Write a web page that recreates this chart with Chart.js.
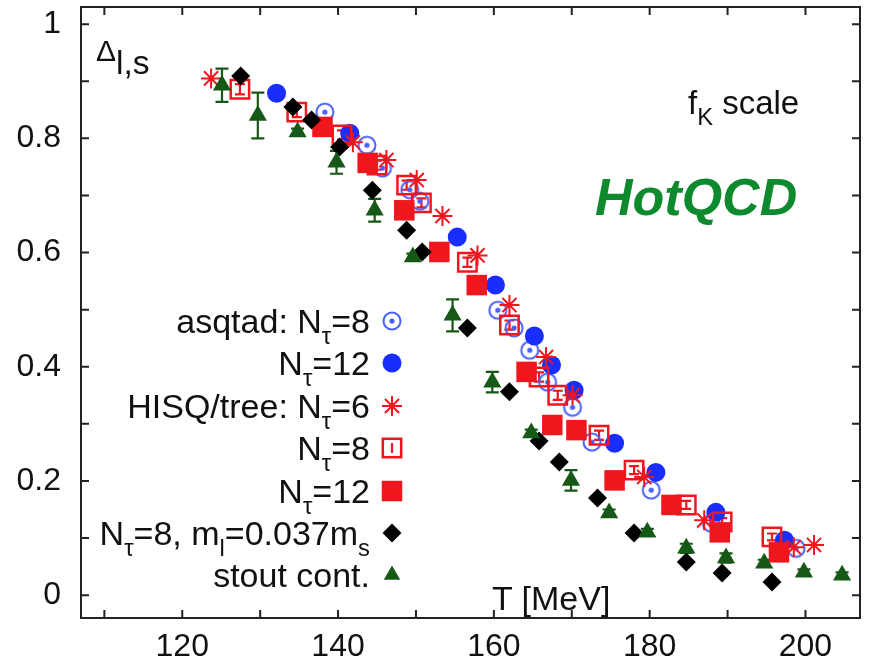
<!DOCTYPE html>
<html>
<head>
<meta charset="utf-8">
<script src="https://cdn.jsdelivr.net/npm/chart.js@4"></script>
<style>
body { margin: 0; background: #fff; }
#wrap { position: relative; width: 869px; height: 664px; font-family: 'Liberation Sans', Arial, sans-serif; color: #111; }
#wrap canvas { position: absolute; left: 0; top: 0; }
.lbl { position: absolute; white-space: nowrap; }
.leg { position: absolute; right: 499px; font-size: 34px; line-height: 34px; text-align: right; white-space: nowrap; }
sub { font-size: 0.7em; vertical-align: -0.45em; line-height: 0; }
</style>
</head>
<body>
<div id="wrap">
<canvas id="chart" width="869" height="664"></canvas>
<div class="lbl" style="left:96px;top:36px;font-size:30px;line-height:30px;">Δ<sub style="font-size:1.12em;vertical-align:-0.38em;">l,s</sub></div>
<div class="lbl" style="left:688px;top:86px;font-size:33px;line-height:33px;">f<sub style="font-size:0.72em;">K</sub> scale</div>
<div class="lbl" style="left:595px;top:171px;font-size:52px;line-height:52px;font-weight:bold;font-style:italic;color:#0e8a2e;">HotQCD</div>
<div class="lbl" style="left:492px;top:581px;font-size:34px;line-height:34px;">T [MeV]</div>
<div class="leg" style="top:304px;">asqtad: N<sub>τ</sub>=8</div>
<div class="leg" style="top:346px;">N<sub>τ</sub>=12</div>
<div class="leg" style="top:389px;">HISQ/tree: N<sub>τ</sub>=6</div>
<div class="leg" style="top:431px;">N<sub>τ</sub>=8</div>
<div class="leg" style="top:474px;">N<sub>τ</sub>=12</div>
<div class="leg" style="top:516px;">N<sub>τ</sub>=8, m<sub>l</sub>=0.037m<sub>s</sub></div>
<div class="leg" style="top:558px;">stout cont.</div>
</div>
<script>
// asqtad, N_tau = 8 (open circles with dot)
const asqtad8T = [138.3, 143.7, 145.7, 149.2, 150.5, 160.5, 162.6, 164.6, 166.9, 170.1, 172.6, 180.2, 187.9, 198.8];
const asqtad8D = [0.846, 0.788, 0.748, 0.71, 0.69, 0.499, 0.468, 0.429, 0.373, 0.329, 0.268, 0.184, 0.126, 0.082];

// asqtad, N_tau = 12
const asqtad12T = [132.1, 141.5, 155.3, 160.2, 165.2, 167.4, 170.3, 175.5, 180.8, 188.5, 197.3];
const asqtad12D = [0.879, 0.809, 0.627, 0.543, 0.454, 0.403, 0.359, 0.266, 0.215, 0.145, 0.096];

// HISQ/tree
const hisq6T = [123.7, 141.9, 146.2, 150.1, 153.4, 157.9, 162.0, 166.7, 170.1, 179.3, 187.0, 198.5, 201.1];
const hisq6D = [0.905, 0.793, 0.762, 0.727, 0.664, 0.595, 0.508, 0.417, 0.35, 0.207, 0.131, 0.084, 0.088];

const hisq8T = [127.4, 134.7, 140.5, 145.0, 148.8, 150.7, 156.6, 162.0, 165.8, 168.2, 173.5, 178.0, 184.7, 189.3, 195.7];
const hisq8D = [0.886, 0.846, 0.806, 0.753, 0.718, 0.687, 0.583, 0.473, 0.382, 0.35, 0.28, 0.219, 0.158, 0.128, 0.102];
const hisq8Err = [0.009, 0.009, 0.008, 0.008, 0.008, 0.008, 0.008, 0.008, 0.008, 0.008, 0.008, 0.007, 0.007, 0.007, 0.006];

const hisq12T = [138.0, 143.8, 148.5, 153.0, 157.8, 164.2, 167.5, 170.6, 175.5, 182.8, 189.0, 196.6];
const hisq12D = [0.82, 0.757, 0.674, 0.601, 0.543, 0.391, 0.298, 0.289, 0.201, 0.158, 0.11, 0.075];

// N_tau = 8, m_l = 0.037 m_s
const mlT = [127.5, 134.2, 136.6, 140.2, 144.4, 148.8, 150.8, 156.6, 162.0, 165.8, 168.4, 173.3, 178.0, 184.7, 189.3, 195.7];
const mlD = [0.909, 0.855, 0.832, 0.785, 0.709, 0.639, 0.601, 0.468, 0.356, 0.27, 0.233, 0.17, 0.109, 0.058, 0.039, 0.023];

// stout continuum
const stoutT = [125.1, 129.7, 134.8, 139.8, 144.7, 149.6, 154.7, 159.8, 164.8, 169.9, 174.8, 179.7, 184.7, 189.8, 194.7, 199.8, 204.7];
const stoutD = [0.893, 0.84, 0.811, 0.758, 0.674, 0.592, 0.49, 0.373, 0.284, 0.201, 0.144, 0.11, 0.082, 0.065, 0.056, 0.04, 0.035];
const stoutErr = [0.029, 0.04, 0.006, 0.02, 0.02, 0.006, 0.028, 0.018, 0.006, 0.018, 0.006, 0.006, 0.008, 0.008, 0.006, 0.005, 0.005];

// axes
const xMin = 107, xMax = 207;
const yMin = -0.04, yMax = 1.03;
const xTicks = [110, 120, 130, 140, 150, 160, 170, 180, 190, 200];
const xTickLabels = ['', '120', '', '140', '', '160', '', '180', '', '200'];
const yTicks = [0, 0.1, 0.2, 0.3, 0.4, 0.5, 0.6, 0.7, 0.8, 0.9, 1.0];
const yTickLabels = ['0', '', '0.2', '', '0.4', '', '0.6', '', '0.8', '', '1'];

const RED = 'rgb(240,22,30)';
const BLUE = 'rgb(25,45,255)';
const BLUE_LIGHT = 'rgb(70,95,255)';
const GREEN = 'rgb(22,88,22)';

function toPoints(ts, ds) {
    return ts.map((t, i) => ({ x: t, y: ds[i] }));
}

// open circle with a dot in the middle
function dottedCircle() {
    const c = document.createElement('canvas');
    c.width = 24; c.height = 24;
    const g = c.getContext('2d');
    g.strokeStyle = BLUE_LIGHT;
    g.lineWidth = 2;
    g.beginPath();
    g.arc(12, 12, 8.5, 0, Math.PI * 2);
    g.stroke();
    g.fillStyle = BLUE_LIGHT;
    g.beginPath();
    g.arc(12, 12, 2.6, 0, Math.PI * 2);
    g.fill();
    return c;
}
const dotCircle = dottedCircle();

const datasets = [
    { label: 'asqtad8', data: toPoints(asqtad8T, asqtad8D), pointStyle: dotCircle, pointRadius: 10, order: 6 },
    { label: 'asqtad12', data: toPoints(asqtad12T, asqtad12D), pointStyle: 'circle', pointRadius: 9.5,
      backgroundColor: BLUE, borderColor: BLUE, borderWidth: 0, order: 5 },
    { label: 'hisq6', data: toPoints(hisq6T, hisq6D), pointStyle: 'star', pointRadius: 10,
      borderColor: RED, backgroundColor: RED, borderWidth: 2, order: 4 },
    { label: 'hisq8', data: toPoints(hisq8T, hisq8D), errors: hisq8Err, capHalf: 5, pointStyle: 'rect', pointRadius: 13,
      borderColor: RED, backgroundColor: 'rgba(0,0,0,0)', borderWidth: 2.5, order: 3 },
    { label: 'hisq12', data: toPoints(hisq12T, hisq12D), pointStyle: 'rect', pointRadius: 14.5,
      borderColor: RED, backgroundColor: RED, borderWidth: 0, order: 2 },
    { label: 'ml', data: toPoints(mlT, mlD), pointStyle: 'rectRot', pointRadius: 9.5,
      borderColor: '#000', backgroundColor: '#000', borderWidth: 0, order: 1 },
    { label: 'stout', data: toPoints(stoutT, stoutD), errors: stoutErr, capHalf: 6.5, pointStyle: 'triangle', pointRadius: 10.5,
      borderColor: GREEN, backgroundColor: GREEN, borderWidth: 0, order: 0 }
];
datasets.forEach(d => { d.showLine = false; d.pointHoverRadius = d.pointRadius; });

const legendY = [321, 363, 406, 448, 491, 533, 575];
const legendX = 392;

const framePlugin = {
    id: 'frame',
    beforeDatasetsDraw(chart) {
        // error bars, drawn under the markers
        const ctx = chart.ctx;
        const yScale = chart.scales.y;
        chart.data.datasets.forEach((ds, i) => {
            if (!ds.errors) return;
            const meta = chart.getDatasetMeta(i);
            ctx.save();
            ctx.strokeStyle = ds.borderColor;
            ctx.lineWidth = 2.2;
            meta.data.forEach((pt, j) => {
                const e = ds.errors[j];
                const y1 = yScale.getPixelForValue(ds.data[j].y + e);
                const y2 = yScale.getPixelForValue(ds.data[j].y - e);
                ctx.beginPath();
                ctx.moveTo(pt.x, y1); ctx.lineTo(pt.x, y2);
                ctx.moveTo(pt.x - ds.capHalf, y1); ctx.lineTo(pt.x + ds.capHalf, y1);
                ctx.moveTo(pt.x - ds.capHalf, y2); ctx.lineTo(pt.x + ds.capHalf, y2);
                ctx.stroke();
            });
            ctx.restore();
        });
    },
    afterDraw(chart) {
        const ctx = chart.ctx;
        const a = chart.chartArea;
        const xs = chart.scales.x, ys = chart.scales.y;
        const tl = 8;
        ctx.save();
        ctx.strokeStyle = '#222';
        ctx.lineWidth = 2;
        ctx.strokeRect(a.left, a.top, a.right - a.left, a.bottom - a.top);
        ctx.beginPath();
        xs.ticks.forEach(t => {
            const px = xs.getPixelForValue(t.value);
            ctx.moveTo(px, a.bottom); ctx.lineTo(px, a.bottom - tl);
            ctx.moveTo(px, a.top); ctx.lineTo(px, a.top + tl);
        });
        ys.ticks.forEach(t => {
            const py = ys.getPixelForValue(t.value);
            ctx.moveTo(a.left, py); ctx.lineTo(a.left + tl, py);
            ctx.moveTo(a.right, py); ctx.lineTo(a.right - tl, py);
        });
        ctx.stroke();

        // legend markers
        chart.data.datasets.forEach((ds, i) => {
            const y = legendY[i];
            ctx.fillStyle = ds.backgroundColor || BLUE_LIGHT;
            ctx.strokeStyle = ds.borderColor || BLUE_LIGHT;
            ctx.lineWidth = ds.borderWidth || 2;
            Chart.helpers.drawPoint(ctx, {
                pointStyle: ds.pointStyle,
                radius: ds.label === 'stout' ? 9.5 : ds.pointRadius,
                rotation: 0,
                borderWidth: ds.borderWidth || 0
            }, legendX, y);
            if (ds.label === 'hisq8') {
                ctx.lineWidth = 2.2;
                ctx.beginPath();
                ctx.moveTo(legendX, y - 5); ctx.lineTo(legendX, y + 5);
                ctx.stroke();
            }
        });
        ctx.restore();
    }
};

const tickFont = { family: "'Liberation Sans', Arial, sans-serif", size: 32 };

new Chart(document.getElementById('chart'), {
    type: 'scatter',
    data: { datasets: datasets },
    options: {
        responsive: false,
        animation: false,
        events: [],
        layout: { autoPadding: false, padding: { top: 7, right: 9, left: 0, bottom: 0 } },
        plugins: { legend: { display: false }, tooltip: { enabled: false } },
        scales: {
            x: {
                type: 'linear',
                min: xMin, max: xMax,
                grid: { display: false },
                border: { display: false },
                afterBuildTicks: s => { s.ticks = xTicks.map(v => ({ value: v })); },
                ticks: {
                    autoSkip: false,
                    maxRotation: 0,
                    padding: 2,
                    color: '#111',
                    font: tickFont,
                    callback: (v, i) => xTickLabels[i]
                },
                afterFit: s => { s.height = 46; s.paddingLeft = 0; s.paddingRight = 0; }
            },
            y: {
                type: 'linear',
                min: yMin, max: yMax,
                grid: { display: false },
                border: { display: false },
                afterBuildTicks: s => { s.ticks = yTicks.map(v => ({ value: v })); },
                ticks: {
                    autoSkip: false,
                    padding: 12,
                    color: '#111',
                    font: tickFont,
                    callback: (v, i) => yTickLabels[i]
                },
                afterFit: s => { s.width = 81; s.paddingTop = 0; s.paddingBottom = 0; }
            }
        }
    },
    plugins: [framePlugin]
});
</script>
</body>
</html>
